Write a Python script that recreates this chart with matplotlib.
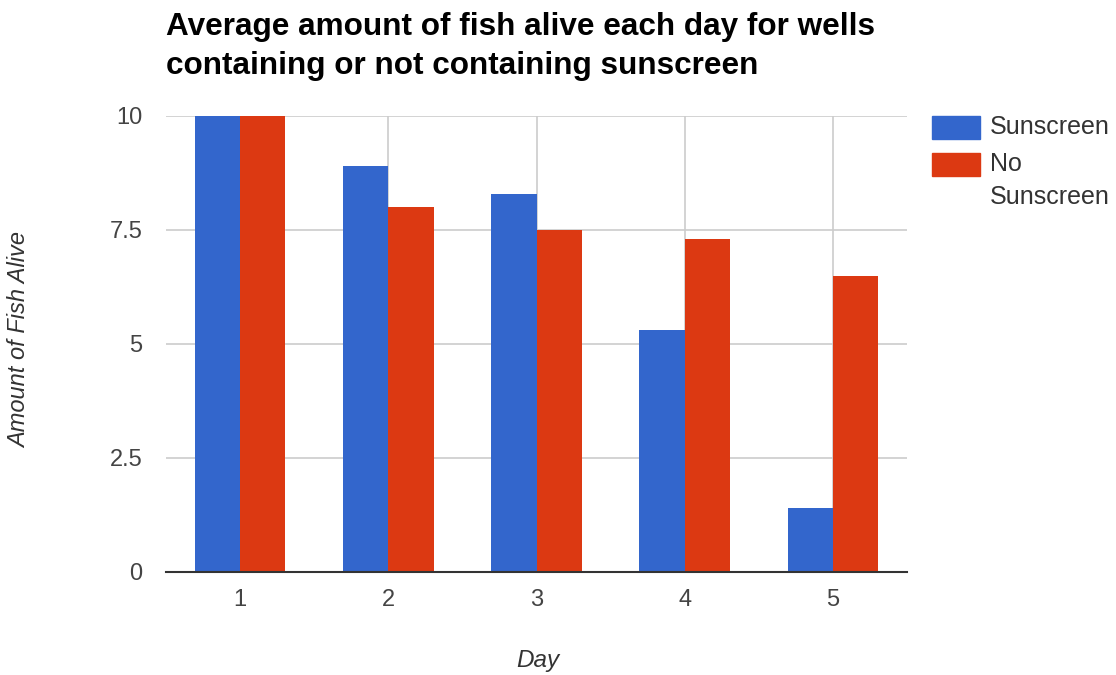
import numpy as np
import matplotlib
matplotlib.use("Agg")
from matplotlib import pyplot as plt
from matplotlib.patches import Rectangle

days = ["1", "2", "3", "4", "5"]
series = ["Sunscreen", "No\nSunscreen"]
sunscreen = [10, 8.9, 8.3, 5.3, 1.4]
no_sunscreen = [10, 8.0, 7.5, 7.3, 6.5]
colors = ["#3366cc", "#dc3912"]
yticks = [0, 2.5, 5, 7.5, 10]
ytick_labels = ["0", "2.5", "5", "7.5", "10"]

plt.rcParams["font.family"] = ["Liberation Sans", "DejaVu Sans"]

W, H = 1116, 675
fig = plt.figure(figsize=(W / 100, H / 100), dpi=100)
ax = fig.add_axes([166 / W, 1 - 572 / H, (907 - 166) / W, (572 - 116) / H])

x = np.arange(1, len(days) + 1)
bw = 0.305
ax.bar(x - bw / 2, sunscreen, bw, color=colors[0], zorder=2)
ax.bar(x + bw / 2, no_sunscreen, bw, color=colors[1], zorder=2)

ax.set_xlim(0.5, 5.5)
ax.set_ylim(0, 10)
ax.set_xticks(x)
ax.set_xticklabels(days)
ax.set_yticks(yticks)
ax.set_yticklabels(ytick_labels)
ax.grid(True, color="#cccccc", linewidth=1.2, zorder=0)
ax.set_axisbelow(True)
for s in ["left", "right", "top"]:
    ax.spines[s].set_visible(False)
ax.spines["bottom"].set_color("#333333")
ax.spines["bottom"].set_linewidth(1.5)
ax.spines["bottom"].set_zorder(3)
ax.tick_params(length=0, labelsize=17, colors="#444444", pad=12)
ax.tick_params(axis="y", pad=17)

fig.text(20 / W, 1 - 340 / H, "Amount of Fish Alive", rotation=90, style="italic",
         fontsize=17, color="#333333", ha="center", va="center")
fig.text(538 / W, 1 - 661 / H, "Day", style="italic",
         fontsize=17.5, color="#333333", ha="center", va="center")

fig.text(166 / W, 1 - 12 / H, "Average amount of fish alive each day for wells\ncontaining or not containing sunscreen",
         fontsize=22.7, fontweight="bold", color="#000000", ha="left", va="top", linespacing=1.38)

# legend
sw_top = [116, 153]
for i, lab in enumerate(series):
    fig.patches.append(Rectangle((932 / W, 1 - (sw_top[i] + 23) / H), 48 / W, 23 / H,
                                 transform=fig.transFigure, color=colors[i]))
    fig.text(990 / W, 1 - (sw_top[i] + 11.5) / H, lab, fontsize=18, color="#333333",
             ha="left", va="top" if "\n" in lab else "center", linespacing=1.45)

fig.texts[-1].set_position((990 / W, 1 - (sw_top[1] - 1) / H))

fig.savefig("out.png", dpi=100)
